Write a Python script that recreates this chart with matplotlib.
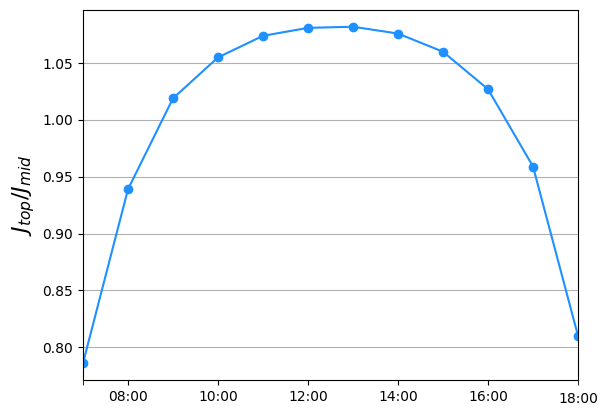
import matplotlib
matplotlib.use("Agg")
import matplotlib.pyplot as plt
from matplotlib.ticker import FixedLocator, FuncFormatter

# Hora do dia e razão J_top / J_mid
hours = [7, 8, 9, 10, 11, 12, 13, 14, 15, 16, 17, 18]
ratio = [0.786, 0.939, 1.019, 1.055, 1.074, 1.081, 1.082, 1.076, 1.060, 1.027, 0.959, 0.810]

major_hours = [8, 10, 12, 14, 16]
minor_hours = [7, 18]


def hour_label(h, pos=None):
    return f"{int(h):02d}:00"


fig, ax = plt.subplots(figsize=(6.08, 4.13), dpi=100)
fig.subplots_adjust(left=0.1365, right=0.9507, bottom=0.080, top=0.976)

ax.plot(hours, ratio, 'o-', color='dodgerblue', linewidth=1.5, markersize=6)
ax.set_xlim(hours[0], hours[-1])

ax.xaxis.set_major_locator(FixedLocator(major_hours))
ax.xaxis.set_major_formatter(FuncFormatter(hour_label))
ax.xaxis.set_minor_locator(FixedLocator(minor_hours))
ax.xaxis.set_minor_formatter(FuncFormatter(lambda h, pos: "18:00" if h == 18 else ""))
ax.tick_params(axis='x', which='minor', length=3.5, pad=5.5)

ax.set_ylabel(r'$J_{top}/J_{mid}$', fontsize=16)
ax.grid(True, axis='y', color='#b0b0b0')

plt.savefig('out.png', dpi=100)
